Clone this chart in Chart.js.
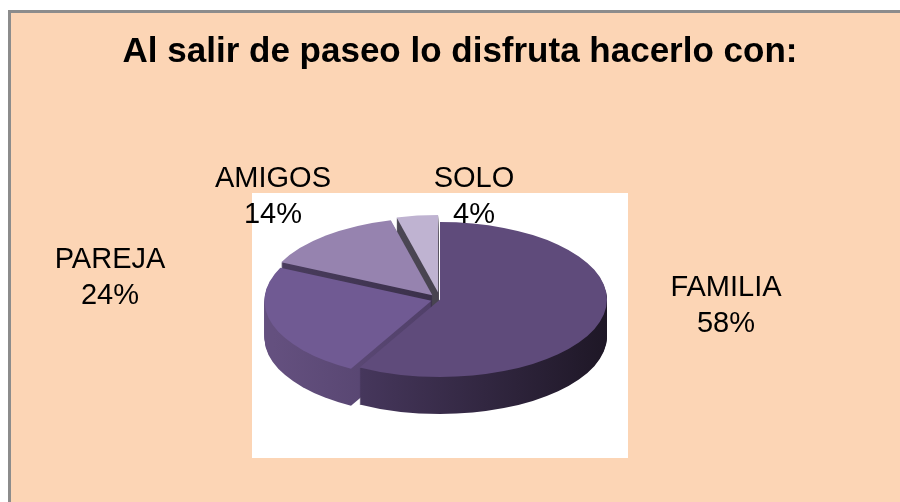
<!DOCTYPE html>
<html lang="es">
<head>
<meta charset="UTF-8">
<title>Al salir de paseo lo disfruta hacerlo con:</title>
<script src="https://cdn.jsdelivr.net/npm/chart.js"></script>
<style>
  html, body { margin: 0; padding: 0; background: #fff; }
  canvas { display: block; }
</style>
</head>
<body>
<canvas id="pieChart" width="900" height="502"></canvas>
<script>
// Datos del gráfico
const titulo = 'Al salir de paseo lo disfruta hacerlo con:';
const categorias = ['FAMILIA', 'PAREJA', 'AMIGOS', 'SOLO'];
const porcentajes = [58, 24, 14, 4];

// Estilos
const coloresCara = ['#5f4b7b', '#705a93', '#9683af', '#bfb3d1'];
const coloresLado = [
  ['#54426f', '#1e1726'],
  ['#64507f', '#3a2d50'],
  ['#4a3d5e', '#2a2235'],
  ['#55505f', '#3a3640']
];
const separacion = [0, 9, 12, 15];
const posEtiquetas = [[726, 296], [110, 268], [273, 187], [474, 187]];
const APLANADO = 0.464;
const PROFUNDIDAD = 37;

function trazoPorcion(ctx, arc, cy, dy) {
  const p = arc.getProps(['x', 'y', 'startAngle', 'endAngle', 'outerRadius'], true);
  const mid = (p.startAngle + p.endAngle) / 2;
  const off = arc.options.offset || 0;
  const ox = p.x + Math.cos(mid) * off;
  const oy = cy + (p.y + Math.sin(mid) * off - cy) * APLANADO + dy;
  ctx.beginPath();
  ctx.moveTo(ox, oy);
  ctx.ellipse(ox, oy, p.outerRadius, p.outerRadius * APLANADO, 0, p.startAngle, p.endAngle);
  ctx.closePath();
}

const fondo = {
  id: 'fondo',
  beforeDraw(chart) {
    const ctx = chart.ctx;
    ctx.save();
    ctx.fillStyle = '#ffffff';
    ctx.fillRect(0, 0, 900, 502);
    ctx.fillStyle = '#8c8c8c';
    ctx.fillRect(8, 10, 892, 492);
    ctx.fillStyle = '#fcd5b5';
    ctx.fillRect(11, 13, 889, 489);
    ctx.fillStyle = '#ffffff';
    ctx.fillRect(252, 193, 376, 265);
    ctx.restore();
  }
};

const pastel3d = {
  id: 'pastel3d',
  beforeDatasetsDraw(chart) {
    const ctx = chart.ctx;
    const arcs = chart.getDatasetMeta(0).data;
    const cx = arcs[0].x, cy = arcs[0].y, r = arcs[0].outerRadius;
    ctx.save();
    const grads = coloresLado.map(c => {
      const g = ctx.createLinearGradient(cx - r, 0, cx + r, 0);
      g.addColorStop(0, c[0]);
      g.addColorStop(1, c[1]);
      return g;
    });
    for (let dy = PROFUNDIDAD; dy >= 1; dy--) {
      arcs.forEach((arc, i) => {
        trazoPorcion(ctx, arc, cy, dy);
        ctx.fillStyle = grads[i];
        ctx.fill();
      });
    }
    arcs.forEach((arc, i) => {
      trazoPorcion(ctx, arc, cy, 0);
      ctx.fillStyle = coloresCara[i];
      ctx.fill();
    });
    ctx.restore();
    return false;
  },
  afterDraw(chart) {
    const ctx = chart.ctx;
    ctx.save();
    ctx.fillStyle = '#000';
    ctx.textAlign = 'center';
    ctx.textBaseline = 'alphabetic';
    ctx.font = 'bold 35px "Liberation Sans", Arial, sans-serif';
    ctx.fillText(titulo, 460, 62, 680);
    ctx.font = '29px "Liberation Sans", Arial, sans-serif';
    categorias.forEach((cat, i) => {
      const [x, y] = posEtiquetas[i];
      ctx.fillText(cat, x, y);
      ctx.fillText(porcentajes[i] + '%', x, y + 36);
    });
    ctx.restore();
  }
};

new Chart(document.getElementById('pieChart'), {
  type: 'pie',
  data: {
    labels: categorias,
    datasets: [{
      data: porcentajes,
      backgroundColor: coloresCara,
      borderWidth: 0,
      offset: separacion
    }]
  },
  options: {
    responsive: false,
    animation: false,
    devicePixelRatio: 1,
    radius: 167,
    layout: { padding: { left: 273, right: 293, top: 133, bottom: 36 } },
    plugins: {
      legend: { display: false },
      tooltip: { enabled: false },
      title: { display: false }
    }
  },
  plugins: [fondo, pastel3d]
});
</script>
</body>
</html>
